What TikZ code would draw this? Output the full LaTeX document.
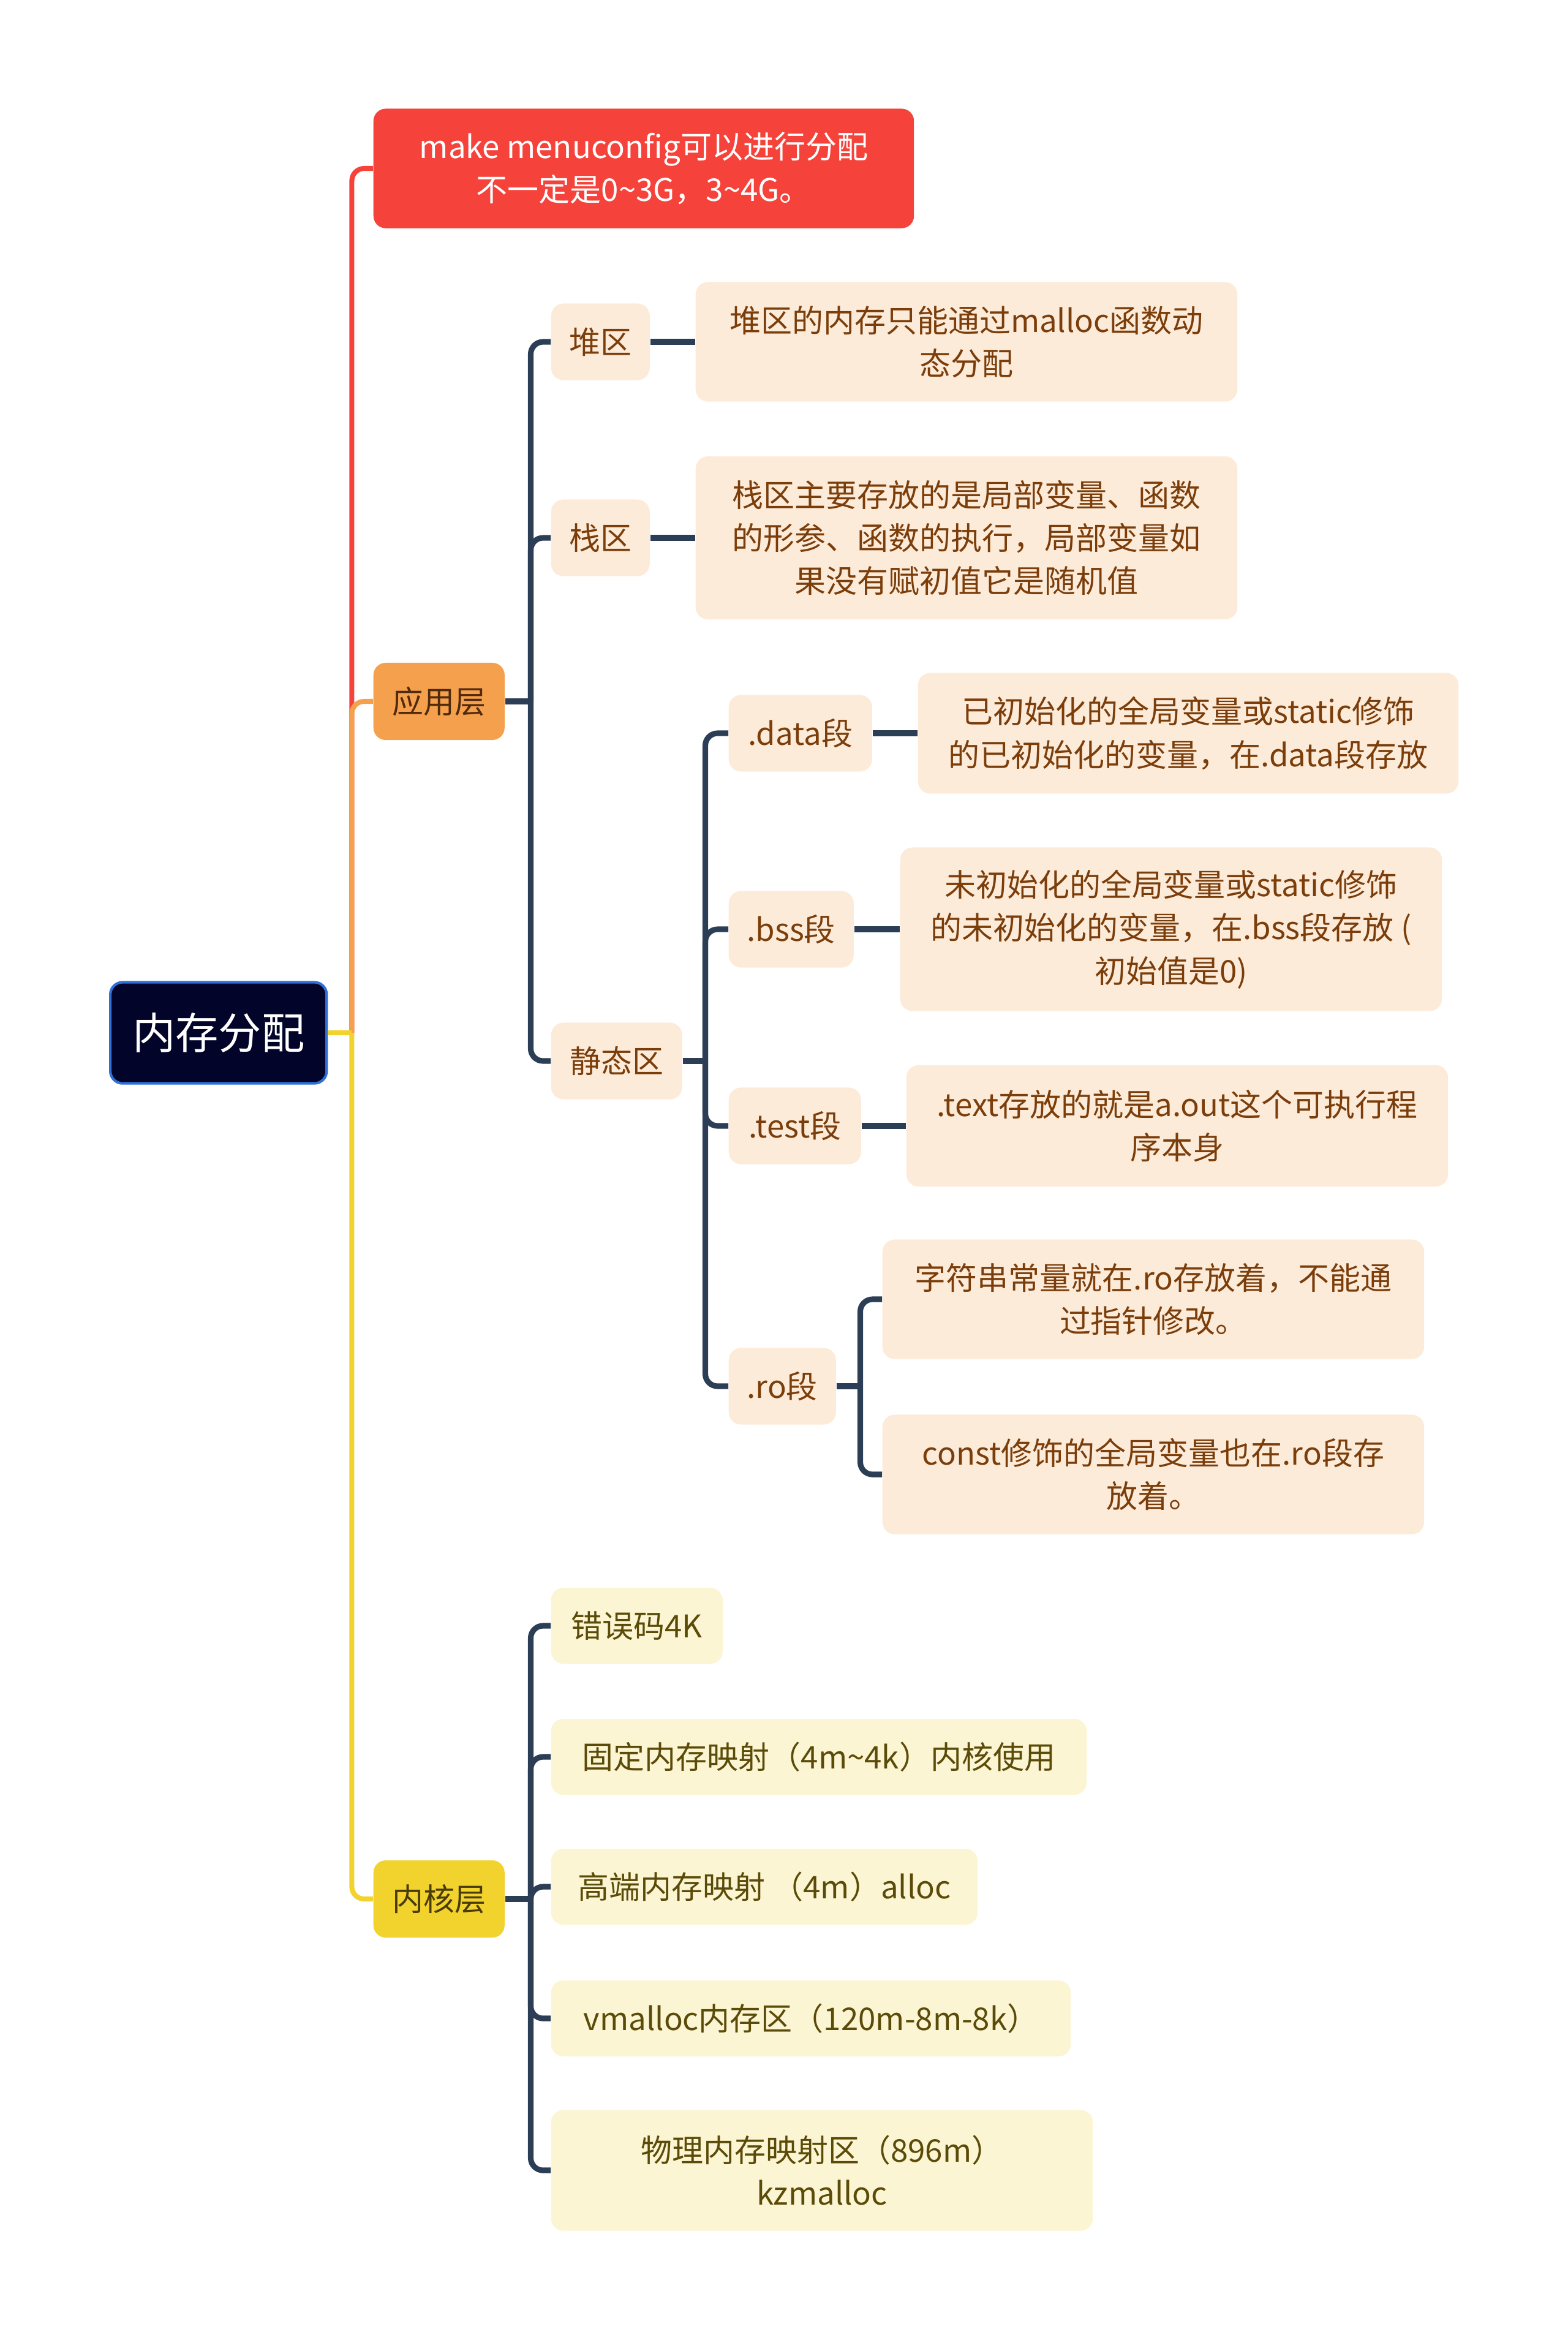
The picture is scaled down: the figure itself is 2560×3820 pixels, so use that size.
\documentclass[tikz,border=0pt]{standalone}
\usepackage{fontspec}
\setmainfont{Noto Sans CJK SC}
\usepackage{tikz}
\usetikzlibrary{positioning}

\definecolor{rootfill}{HTML}{03042A}
\definecolor{rootline}{HTML}{2F6FD6}
\definecolor{redc}{HTML}{F5433B}
\definecolor{orangec}{HTML}{F5A04C}
\definecolor{yellowc}{HTML}{F2D22C}
\definecolor{linec}{HTML}{2C3E56}
\definecolor{peach}{HTML}{FDEBDA}
\definecolor{cream}{HTML}{FCF5D3}
\definecolor{browntext}{HTML}{7B3E0B}
\definecolor{olivetext}{HTML}{5B4B08}
\definecolor{apptext}{HTML}{4F2A0C}

\begin{document}
\begin{tikzpicture}[
        x=0.01cm, y=-0.01cm,
        box/.style={rectangle, rounded corners=0.2cm, align=center, inner sep=0pt, anchor=west, font=\fontsize{14.5}{20}\selectfont},
        rootbox/.style={box, fill=rootfill, draw=rootline, line width=1.2pt, text=white, minimum width=3.53cm, minimum height=1.65cm, font=\fontsize{20}{24}\selectfont},
        redbox/.style={box, fill=redc, text=white, minimum width=8.82cm, minimum height=1.95cm},
        layer/.style={box, text=apptext, minimum width=2.14cm, minimum height=1.26cm},
        area/.style={box, fill=peach, text=browntext, minimum height=1.25cm},
        note/.style={box, fill=peach, text=browntext, minimum width=8.84cm},
        knote/.style={box, fill=cream, text=olivetext, minimum height=1.24cm},
        trunk/.style={line width=2.3pt, rounded corners=0.2cm},
        link/.style={line width=2.6pt, draw=linec, rounded corners=0.2cm}
    ]
        \useasboundingbox (0,0) rectangle (2560,3820);

        \node[rootbox] (root) at (178,1686) {内存分配};
        \node[redbox] (menu) at (609,275) {make menuconfig可以进行分配\\不一定是0\textasciitilde3G，3\textasciitilde4G。};
        \node[layer, fill=orangec] (app) at (609,1145) {应用层};
        \node[layer, fill=yellowc, text=olivetext!80!black] (kernel) at (609,3100) {内核层};

        \node[area, minimum width=1.61cm] (heap) at (899,558) {堆区};
        \node[area, minimum width=1.61cm] (stack) at (899,878) {栈区};
        \node[area, minimum width=2.14cm] (static) at (899,1732) {静态区};
        \node[note, minimum height=1.95cm] (heapnote) at (1135,558) {堆区的内存只能通过malloc函数动\\态分配};
        \node[note, minimum height=2.66cm] (stacknote) at (1135,878) {栈区主要存放的是局部变量、函数\\的形参、函数的执行，局部变量如\\果没有赋初值它是随机值};

        \node[area, minimum width=2.34cm] (data) at (1189,1197) {.data段};
        \node[area, minimum width=2.04cm] (bss) at (1189,1517) {.bss段};
        \node[area, minimum width=2.16cm] (test) at (1189,1838) {.test段};
        \node[area, minimum width=1.75cm] (ro) at (1189,2263) {.ro段};
        \node[note, minimum width=8.82cm, minimum height=1.97cm] (datanote) at (1498,1197) {已初始化的全局变量或static修饰\\的已初始化的变量，在.data段存放};
        \node[note, minimum height=2.67cm] (bssnote) at (1469,1517) {未初始化的全局变量或static修饰\\的未初始化的变量，在.bss段存放 (\\初始值是0)};
        \node[note, minimum height=1.98cm] (textnote) at (1479,1838) {.text存放的就是a.out这个可执行程\\序本身};
        \node[note, minimum height=1.95cm] (ronote) at (1440,2121) {字符串常量就在.ro存放着，不能通\\过指针修改。};
        \node[note, minimum height=1.95cm] (constnote) at (1440,2407) {const修饰的全局变量也在.ro段存\\放着。};

        \node[knote, minimum width=2.80cm] (errcode) at (899,2654) {错误码4K};
        \node[knote, minimum width=8.74cm] (fixmap) at (899,2868) {固定内存映射（4m\textasciitilde4k）内核使用};
        \node[knote, minimum width=6.96cm] (highmem) at (899,3080) {高端内存映射 （4m）alloc};
        \node[knote, minimum width=8.48cm] (vmalloc) at (899,3295) {vmalloc内存区（120m-8m-8k）};
        \node[knote, minimum width=8.84cm, minimum height=1.97cm] (physmem) at (899,3543) {物理内存映射区（896m）\\kzmalloc};

        \coordinate (rootjoint) at ([xshift=0.39cm]root.east);
        \draw[trunk, redc] (rootjoint) |- (menu.west);
        \draw[trunk, orangec] (rootjoint) |- (app.west);
        \draw[trunk, yellowc] (rootjoint) |- (kernel.west);
        \draw[trunk, yellowc] (root.east) -- (rootjoint);

        \draw[link] (app.east) -- ++(42,0) coordinate (appjoint);
        \draw[link] (appjoint) |- (heap.west);
        \draw[link] (appjoint) |- (stack.west);
        \draw[link] (appjoint) |- (static.west);
        \draw[link] (heap) -- (heapnote);
        \draw[link] (stack) -- (stacknote);

        \draw[link] (static.east) -- ++(37,0) coordinate (staticjoint);
        \draw[link] (staticjoint) |- (data.west);
        \draw[link] (staticjoint) |- (bss.west);
        \draw[link] (staticjoint) |- (test.west);
        \draw[link] (staticjoint) |- (ro.west);
        \draw[link] (data) -- (datanote);
        \draw[link] (bss) -- (bssnote);
        \draw[link] (test) -- (textnote);

        \draw[link] (ro.east) -- ++(39,0) coordinate (rojoint);
        \draw[link] (rojoint) |- (ronote.west);
        \draw[link] (rojoint) |- (constnote.west);

        \draw[link] (kernel.east) -- ++(42,0) coordinate (kerneljoint);
        \draw[link] (kerneljoint) |- (errcode.west);
        \draw[link] (kerneljoint) |- (fixmap.west);
        \draw[link] (kerneljoint) |- (highmem.west);
        \draw[link] (kerneljoint) |- (vmalloc.west);
        \draw[link] (kerneljoint) |- (physmem.west);
    \end{tikzpicture}
\end{document}
